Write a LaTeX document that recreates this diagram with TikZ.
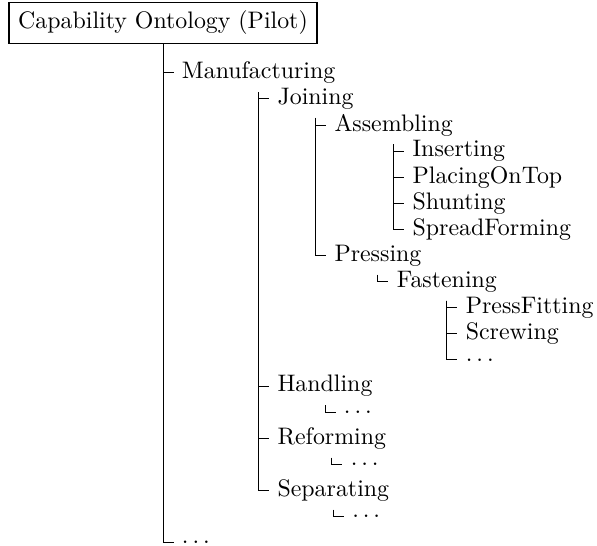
\documentclass[tikz,border=0pt]{standalone}
\begin{document}
\begin{tikzpicture}[x=0.41876pt,y=-0.41876pt,
  kid/.style={anchor=west, xshift=4.4pt},
  link/.style={draw, line width=0.4pt},
  rootbox/.style={draw, line width=0.8pt, inner xsep=4pt, inner ysep=3.6pt}]
\useasboundingbox (0,0) rectangle (597,546);

% root of the folder tree
\node[rootbox] (root) at (163,23) {Capability Ontology (Pilot)};

% rows are 26.1 units apart; each child hangs off its parent's south anchor
\node[kid] (mfg)   at (root.south |- 0,72.8)  {Manufacturing};
\node[kid] (join)  at (mfg.south  |- 0,98.9)  {Joining};
\node[kid] (asm)   at (join.south |- 0,125.0) {Assembling};
\node[kid] (ins)   at (asm.south  |- 0,151.1) {Inserting};
\node[kid] (place) at (asm.south  |- 0,177.2) {PlacingOnTop};
\node[kid] (shunt) at (asm.south  |- 0,203.3) {Shunting};
\node[kid] (sprd)  at (asm.south  |- 0,229.4) {SpreadForming};
\node[kid] (press) at (join.south |- 0,255.5) {Pressing};
\node[kid] (fast)  at (press.south |- 0,281.6) {Fastening};
\node[kid] (pfit)  at (fast.south |- 0,307.7) {PressFitting};
\node[kid] (screw) at (fast.south |- 0,333.8) {Screwing};
\node[kid] (fmore) at (fast.south |- 0,359.9) {$\ldots$};
\node[kid] (hand)  at (mfg.south  |- 0,386.0) {Handling};
\node[kid] (hmore) at (hand.south |- 0,412.1) {$\ldots$};
\node[kid] (refo)  at (mfg.south  |- 0,438.2) {Reforming};
\node[kid] (rmore) at (refo.south |- 0,464.3) {$\ldots$};
\node[kid] (sep)   at (mfg.south  |- 0,490.4) {Separating};
\node[kid] (smore) at (sep.south  |- 0,516.5) {$\ldots$};
\node[kid] (more)  at (root.south |- 0,542.6) {$\ldots$};

% folder-style connectors
\foreach \p/\c in {root/mfg, root/more,
                   mfg/join, mfg/hand, mfg/refo, mfg/sep,
                   join/asm, join/press,
                   asm/ins, asm/place, asm/shunt, asm/sprd,
                   press/fast,
                   fast/pfit, fast/screw, fast/fmore,
                   hand/hmore, refo/rmore, sep/smore}
  \draw[link] (\p.south) |- (\c.west);
\end{tikzpicture}
\end{document}
